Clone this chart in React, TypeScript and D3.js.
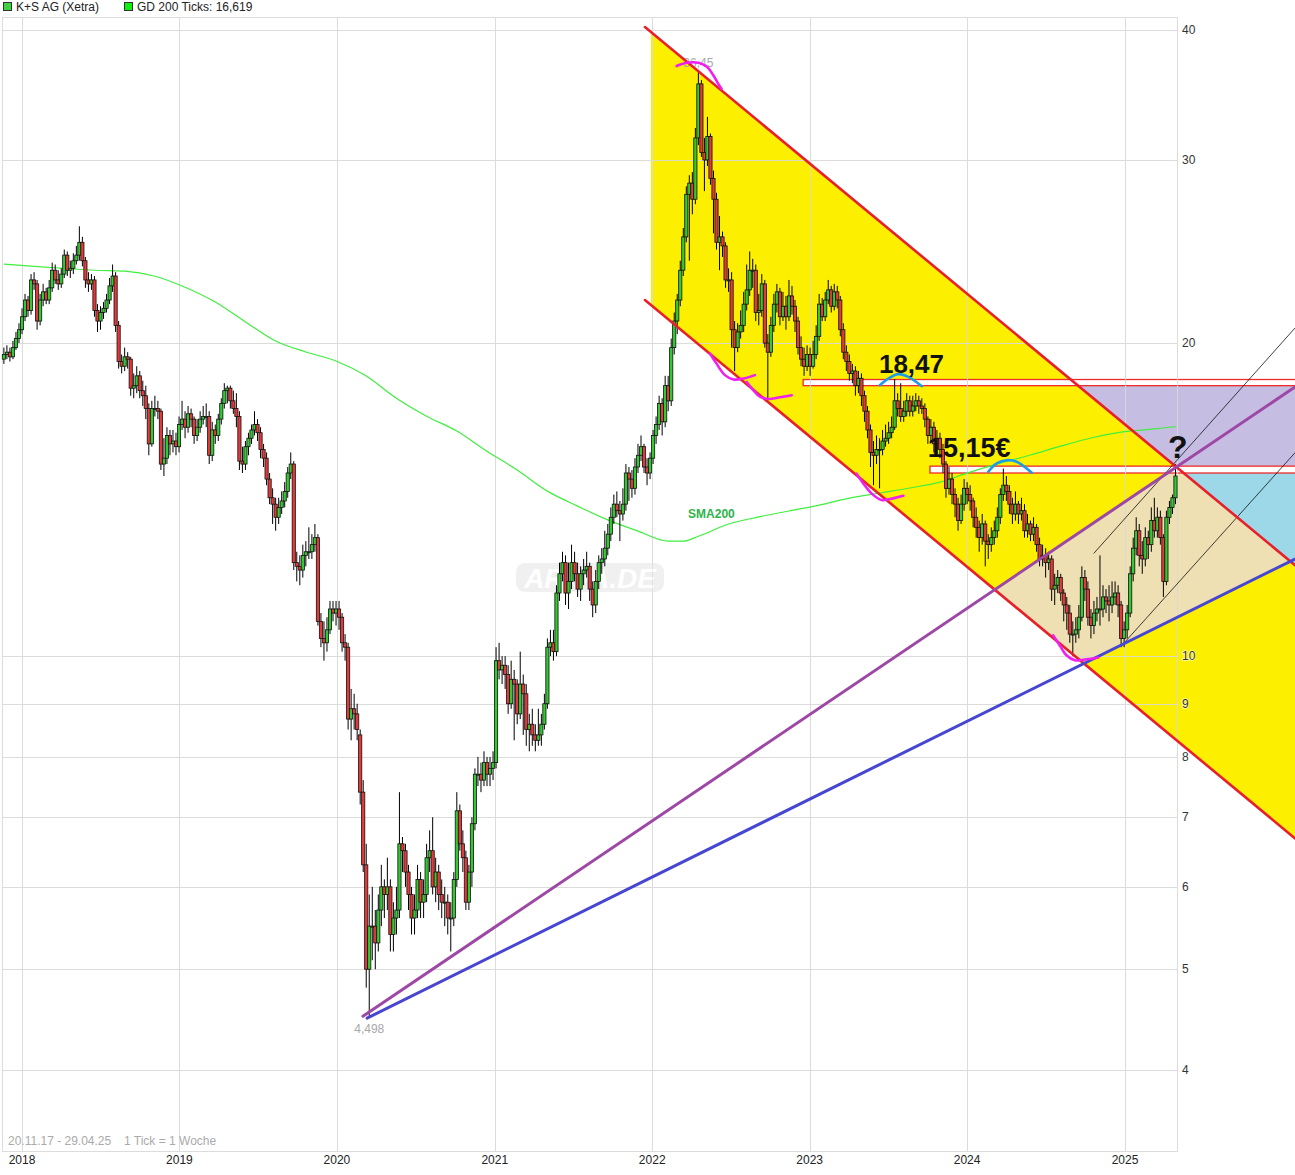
import * as d3 from "d3";

type Candle = [number, number, number, number]; // open, high, low, close
type Pt = [number, number]; // week index, price

const START = Date.UTC(2017, 10, 20);
const WEEK = 7 * 24 * 3600 * 1000;

const weeks2017: Candle[] = [
  [19.3, 19.8, 19.1, 19.5], [19.5, 19.9, 19.3, 19.6], [19.6, 19.8, 19.2, 19.4],
  [19.4, 20.1, 19.3, 19.8], [19.8, 20.5, 19.7, 20.2], [20.2, 20.9, 20.0, 20.6],
];

const weeks2018: Candle[] = [
  [20.6, 21.6, 20.4, 21.2], [21.2, 22.3, 21.0, 22.0], [22.0, 22.2, 21.2, 21.5], [21.5, 23.3, 21.3, 23.0], [23.0, 23.4, 22.5, 22.8],
  [22.8, 23.0, 20.6, 21.0], [21.0, 22.3, 20.8, 22.0], [22.0, 22.8, 21.7, 22.4], [22.4, 22.6, 21.8, 22.0], [22.0, 23.0, 21.8, 22.6],
  [22.6, 23.9, 22.4, 23.5], [23.5, 23.8, 22.8, 23.0], [23.0, 23.5, 22.5, 22.8], [22.8, 23.6, 22.6, 23.3], [23.3, 24.6, 23.1, 24.3],
  [24.3, 24.5, 23.2, 23.5], [23.5, 24.0, 23.1, 23.6], [23.6, 24.4, 23.3, 24.0], [24.0, 24.8, 23.8, 24.3], [24.3, 25.9, 24.0, 25.0],
  [25.0, 25.3, 23.7, 24.0], [24.0, 24.2, 22.6, 23.0], [23.0, 23.4, 22.4, 22.8], [22.8, 23.3, 22.5, 23.0], [23.0, 23.2, 21.2, 21.5],
  [21.5, 21.8, 20.5, 21.0], [21.0, 21.7, 20.6, 21.4], [21.4, 21.9, 21.1, 21.6], [21.6, 22.3, 21.4, 22.0], [22.0, 23.1, 21.8, 22.7],
  [22.7, 23.8, 22.4, 23.2], [23.2, 23.4, 20.5, 20.8], [20.8, 21.0, 18.9, 19.2], [19.2, 19.5, 18.7, 19.0], [19.0, 19.8, 18.8, 19.4],
  [19.4, 19.6, 18.9, 19.3], [19.3, 19.4, 17.8, 18.1], [18.1, 18.7, 17.7, 18.2], [18.2, 19.0, 17.9, 18.6], [18.6, 18.8, 17.7, 18.0],
  [18.0, 18.4, 17.4, 17.8], [17.8, 18.2, 16.9, 17.3], [17.3, 17.5, 15.6, 16.0], [16.0, 17.6, 15.9, 17.3], [17.3, 17.8, 17.0, 17.3],
  [17.3, 17.6, 16.9, 17.2], [17.2, 17.3, 15.1, 15.3], [15.3, 16.2, 14.9, 15.5], [15.5, 16.6, 15.3, 16.3], [16.3, 16.5, 15.6, 16.0],
  [16.0, 16.5, 15.7, 16.1], [16.1, 16.4, 15.6, 15.9],
];

const weeks2019: Candle[] = [
  [15.9, 17.0, 15.7, 16.7], [16.7, 17.6, 16.5, 16.9], [16.9, 17.2, 16.2, 16.6], [16.6, 17.4, 16.4, 17.1], [17.1, 17.3, 16.6, 16.9],
  [16.9, 17.0, 16.0, 16.3], [16.3, 16.9, 16.1, 16.6], [16.6, 17.2, 16.4, 16.9], [16.9, 17.4, 16.7, 17.0], [17.0, 17.5, 16.6, 17.0],
  [17.0, 17.2, 15.3, 15.6], [15.6, 16.8, 15.4, 16.5], [16.5, 16.7, 16.0, 16.3], [16.3, 17.1, 16.1, 16.9], [16.9, 17.7, 16.7, 17.5],
  [17.5, 18.3, 17.3, 18.0], [18.0, 18.2, 17.5, 18.1], [18.1, 18.2, 17.3, 17.6], [17.6, 18.0, 17.1, 17.3], [17.3, 17.9, 16.6, 17.0],
  [17.0, 17.2, 15.1, 15.4], [15.4, 15.9, 15.0, 15.3], [15.3, 16.1, 15.1, 15.9], [15.9, 16.4, 15.6, 16.2], [16.2, 16.7, 16.0, 16.5],
  [16.5, 17.2, 16.3, 16.7], [16.7, 16.9, 16.1, 16.4], [16.4, 16.6, 15.5, 15.8], [15.8, 16.0, 15.2, 15.5], [15.5, 15.7, 14.6, 14.8],
  [14.8, 15.0, 14.0, 14.2], [14.2, 14.5, 13.4, 14.0], [14.0, 14.2, 13.2, 13.6], [13.6, 14.2, 13.4, 13.9], [13.9, 14.4, 13.7, 14.1],
  [14.1, 14.7, 13.9, 14.4], [14.4, 15.2, 14.2, 15.0], [15.0, 15.7, 14.8, 15.3], [15.3, 15.4, 12.1, 12.3], [12.3, 12.6, 11.8, 12.2],
  [12.2, 12.5, 11.7, 12.1], [12.1, 12.8, 11.9, 12.5], [12.5, 12.9, 12.2, 12.6], [12.6, 13.3, 12.4, 12.6], [12.6, 13.1, 12.4, 12.8],
  [12.8, 13.4, 12.6, 13.0], [13.0, 13.1, 10.7, 10.8], [10.8, 11.0, 10.2, 10.4], [10.4, 10.8, 9.9, 10.3], [10.3, 10.9, 10.1, 10.6],
  [10.6, 11.3, 10.5, 11.1], [11.1, 11.3, 10.8, 11.0],
];

const weeks2020: Candle[] = [
  [11.0, 11.3, 10.7, 11.1], [11.1, 11.3, 10.6, 10.9], [10.9, 11.0, 10.1, 10.3], [10.3, 10.5, 9.9, 10.2], [10.2, 10.3, 8.5, 8.7],
  [8.7, 9.3, 8.3, 8.9], [8.9, 9.2, 8.5, 8.8], [8.8, 9.0, 8.3, 8.5], [8.4, 8.5, 7.2, 7.4], [7.4, 7.6, 6.2, 6.3],
  [6.3, 6.6, 4.8, 5.0], [5.0, 5.9, 4.498, 5.5], [5.5, 6.0, 5.1, 5.5], [5.5, 5.7, 5.0, 5.3], [5.3, 5.9, 5.2, 5.7],
  [5.7, 6.3, 5.5, 6.0], [6.0, 6.1, 5.6, 5.9], [5.9, 6.4, 5.7, 6.0], [6.0, 6.1, 5.2, 5.4], [5.4, 5.8, 5.2, 5.6],
  [5.6, 6.0, 5.4, 5.7], [5.7, 7.4, 5.6, 6.6], [6.6, 6.7, 6.2, 6.5], [6.5, 6.6, 6.0, 6.2], [6.2, 6.3, 5.7, 5.9],
  [5.9, 6.0, 5.4, 5.6], [5.6, 5.9, 5.4, 5.7], [5.7, 6.3, 5.6, 6.1], [6.1, 6.2, 5.6, 5.8], [5.8, 6.1, 5.6, 5.9],
  [5.9, 6.6, 5.8, 6.4], [6.4, 6.8, 6.2, 6.5], [6.5, 7.0, 5.9, 6.0], [6.0, 6.4, 5.8, 6.2], [6.2, 6.3, 5.7, 5.9],
  [5.9, 6.1, 5.6, 5.8], [5.8, 6.0, 5.5, 5.8], [5.8, 5.9, 5.4, 5.6], [5.6, 5.8, 5.2, 5.6], [5.6, 6.2, 5.5, 6.1],
  [6.1, 7.4, 6.0, 7.1], [7.1, 7.2, 6.5, 6.6], [6.6, 6.8, 6.2, 6.4], [6.4, 6.5, 5.7, 5.8], [5.8, 6.3, 5.7, 6.2],
  [6.2, 7.0, 6.0, 6.9], [6.9, 7.8, 6.8, 7.7], [7.7, 8.0, 7.5, 7.7], [7.7, 7.9, 7.4, 7.6], [7.6, 8.1, 7.5, 7.9],
  [7.9, 8.0, 7.5, 7.7], [7.7, 8.0, 7.5, 7.8], [7.8, 8.1, 7.6, 7.9],
];

const weeks2021: Candle[] = [
  [7.9, 10.2, 7.8, 9.9], [9.9, 10.3, 9.5, 9.7], [9.7, 10.0, 9.4, 9.8], [9.8, 10.0, 9.3, 9.6], [9.6, 9.8, 8.8, 9.0],
  [9.0, 9.9, 8.9, 9.5], [9.5, 9.7, 8.3, 9.4], [9.4, 9.5, 8.6, 8.8], [8.8, 10.1, 8.7, 9.4], [9.4, 9.6, 8.4, 9.2],
  [9.2, 9.4, 8.2, 8.5], [8.5, 8.8, 8.1, 8.6], [8.6, 8.9, 8.2, 8.4], [8.4, 8.6, 8.1, 8.3], [8.3, 8.9, 8.2, 8.4],
  [8.4, 8.8, 8.2, 8.6], [8.6, 9.2, 8.5, 9.0], [9.0, 10.4, 8.9, 10.2], [10.2, 10.6, 10.0, 10.3], [10.3, 10.6, 9.9, 10.1],
  [10.1, 11.7, 10.0, 11.5], [11.5, 12.3, 11.3, 12.0], [12.0, 12.6, 11.8, 12.3], [12.3, 12.5, 11.2, 11.5], [11.5, 12.3, 11.1, 11.8],
  [11.8, 12.8, 11.6, 12.3], [12.3, 12.6, 11.8, 12.0], [12.0, 12.3, 11.4, 11.6], [11.6, 12.2, 11.3, 12.0], [12.0, 12.4, 11.7, 12.1],
  [12.1, 12.6, 11.9, 12.2], [12.2, 12.3, 11.3, 11.6], [11.6, 11.8, 10.9, 11.2], [11.2, 12.1, 11.0, 11.8], [11.8, 12.5, 11.6, 12.3],
  [12.3, 12.7, 12.0, 12.4], [12.4, 13.2, 12.2, 12.7], [12.7, 13.4, 12.5, 13.1], [13.1, 13.9, 12.9, 13.6], [13.6, 14.3, 13.4, 14.0],
  [14.0, 14.4, 13.6, 13.8], [13.8, 14.1, 12.9, 13.7], [13.7, 14.5, 13.5, 14.0], [14.0, 15.3, 13.8, 15.0], [15.0, 15.2, 14.1, 14.8],
  [14.8, 15.1, 14.2, 14.5], [14.5, 15.5, 14.3, 15.2], [15.2, 16.0, 15.0, 15.6], [15.6, 16.3, 15.4, 15.9], [15.9, 16.0, 15.0, 15.2],
  [15.2, 15.5, 14.6, 15.0], [15.0, 15.7, 14.8, 15.5],
];

const weeks2022: Candle[] = [
  [15.5, 16.5, 15.3, 16.3], [16.3, 17.0, 16.0, 16.7], [16.7, 17.8, 16.5, 17.5], [17.5, 17.7, 16.3, 16.8], [16.8, 18.6, 16.6, 18.2],
  [18.2, 18.6, 17.2, 17.6], [17.6, 20.2, 17.4, 19.8], [19.8, 21.4, 19.5, 21.0], [21.0, 22.3, 20.4, 22.0], [22.0, 24.0, 21.7, 23.5],
  [23.5, 25.8, 23.2, 25.3], [25.3, 28.3, 25.0, 27.8], [27.8, 29.0, 24.0, 28.5], [28.5, 29.2, 26.6, 27.5], [27.5, 32.2, 27.2, 31.5],
  [31.5, 36.45, 31.0, 35.5], [35.5, 35.8, 30.2, 30.5], [30.5, 31.5, 28.0, 30.0], [30.0, 33.0, 29.6, 31.6], [31.6, 31.8, 28.4, 28.8],
  [28.8, 29.3, 25.5, 27.5], [27.5, 27.9, 24.6, 25.0], [25.0, 26.5, 23.5, 25.3], [25.3, 25.6, 24.2, 24.8], [24.8, 25.0, 22.6, 23.0],
  [23.0, 23.6, 22.4, 23.0], [23.0, 23.4, 19.8, 20.6], [20.6, 21.0, 18.8, 19.8], [19.8, 20.9, 19.6, 20.5], [20.5, 21.5, 20.2, 20.8],
  [20.8, 22.4, 20.5, 21.8], [21.8, 23.8, 21.5, 22.5], [22.5, 24.5, 22.2, 23.5], [23.5, 24.1, 22.6, 23.5], [23.5, 23.8, 21.0, 21.4],
  [21.4, 22.3, 20.8, 21.5], [21.5, 23.3, 21.2, 22.8], [22.8, 23.0, 19.8, 20.0], [20.0, 20.4, 17.6, 19.6], [19.6, 21.2, 19.4, 20.8],
  [20.8, 22.3, 20.5, 21.8], [21.8, 22.8, 21.4, 22.4], [22.4, 22.6, 20.8, 21.2], [21.2, 22.4, 21.0, 21.7], [21.7, 22.2, 20.6, 21.2],
  [21.2, 23.0, 21.0, 22.2], [22.2, 22.7, 21.3, 21.7], [21.7, 22.0, 20.5, 21.0], [21.0, 21.2, 19.5, 19.8], [19.8, 20.3, 19.0, 19.3],
  [19.3, 19.8, 18.6, 19.0], [19.0, 19.9, 18.8, 19.5],
];

const weeks2023: Candle[] = [
  [19.5, 19.8, 18.6, 19.0], [19.0, 20.1, 18.9, 19.5], [19.5, 20.8, 19.3, 20.3], [20.3, 22.3, 20.1, 21.8], [21.8, 22.1, 21.0, 21.2],
  [21.2, 22.4, 21.0, 22.0], [22.0, 23.0, 21.8, 22.5], [22.5, 22.7, 21.4, 21.7], [21.7, 22.8, 21.5, 22.4], [22.4, 22.7, 21.6, 22.0],
  [22.0, 22.2, 20.3, 20.6], [20.6, 20.9, 19.3, 19.6], [19.6, 19.9, 18.8, 19.2], [19.2, 19.5, 18.4, 18.7], [18.7, 19.1, 18.3, 18.8],
  [18.8, 19.0, 17.8, 18.2], [18.2, 18.8, 17.9, 18.5], [18.5, 18.7, 17.4, 17.8], [17.8, 18.0, 16.8, 17.2], [17.2, 17.4, 16.2, 16.5],
  [16.5, 16.7, 15.2, 15.7], [15.7, 16.1, 14.6, 15.6], [15.6, 16.3, 15.3, 15.8], [15.8, 16.2, 14.5, 15.8], [15.8, 16.5, 15.6, 16.1],
  [16.1, 16.7, 15.9, 16.2], [16.2, 16.8, 16.0, 16.4], [16.4, 17.0, 16.2, 16.6], [16.6, 18.47, 16.5, 17.6], [17.6, 17.9, 17.0, 17.3],
  [17.3, 18.3, 16.8, 17.0], [17.0, 17.6, 16.8, 17.2], [17.2, 17.9, 17.0, 17.6], [17.6, 17.8, 17.0, 17.2], [17.2, 17.8, 17.0, 17.4],
  [17.4, 17.9, 17.2, 17.6], [17.6, 17.8, 17.1, 17.4], [17.4, 17.7, 17.1, 17.3], [17.3, 17.5, 16.6, 16.9], [16.9, 17.0, 16.0, 16.3],
  [16.3, 16.9, 16.1, 16.6], [16.6, 16.8, 15.7, 16.0], [16.0, 16.5, 15.8, 16.2], [16.2, 16.4, 15.5, 15.8], [15.8, 16.0, 15.0, 15.3],
  [15.3, 15.4, 14.2, 14.5], [14.5, 15.2, 14.3, 14.8], [14.8, 15.0, 14.0, 14.3], [14.3, 14.5, 13.6, 14.0], [14.0, 14.2, 13.2, 13.5],
  [13.5, 14.3, 13.4, 14.0], [14.0, 14.8, 13.8, 14.5],
];

const weeks2024: Candle[] = [
  [14.5, 14.7, 14.0, 14.3], [14.3, 14.6, 13.8, 14.1], [14.1, 14.2, 13.3, 13.6], [13.6, 13.9, 13.0, 13.3], [13.3, 13.5, 12.6, 13.0],
  [13.0, 13.7, 12.8, 13.4], [13.4, 13.5, 12.2, 12.9], [12.9, 13.1, 12.4, 12.8], [12.8, 13.3, 12.6, 13.0], [13.0, 13.5, 12.8, 13.2],
  [13.2, 13.9, 13.0, 13.6], [13.6, 14.5, 13.4, 14.3], [14.3, 15.15, 14.1, 14.6], [14.6, 14.9, 14.1, 14.4], [14.4, 14.6, 13.7, 14.0],
  [14.0, 14.2, 13.4, 13.7], [13.7, 14.4, 13.5, 14.0], [14.0, 14.1, 13.4, 13.7], [13.7, 14.2, 13.5, 13.8], [13.8, 14.0, 13.0, 13.2],
  [13.2, 13.7, 13.0, 13.4], [13.4, 13.5, 12.9, 13.1], [13.1, 13.6, 12.9, 13.3], [13.3, 13.4, 12.6, 12.8], [12.8, 13.0, 12.2, 12.4],
  [12.4, 12.8, 12.2, 12.5], [12.5, 12.7, 11.9, 12.3], [12.3, 12.6, 12.1, 12.4], [12.4, 12.5, 11.3, 11.6], [11.6, 12.0, 11.2, 11.7],
  [11.7, 12.1, 11.5, 11.9], [11.9, 12.0, 11.3, 11.5], [11.5, 11.6, 10.8, 11.2], [11.2, 11.4, 10.6, 11.0], [11.0, 11.2, 10.3, 10.5],
  [10.5, 10.8, 10.0, 10.5], [10.5, 10.9, 10.3, 10.6], [10.6, 11.2, 10.4, 10.9], [10.9, 12.2, 10.8, 11.9], [11.9, 12.1, 11.3, 11.6],
  [11.6, 11.8, 10.7, 10.9], [10.9, 11.1, 10.4, 10.7], [10.7, 11.3, 10.5, 11.0], [11.0, 11.4, 10.8, 11.1], [11.1, 12.5, 10.7, 11.1],
  [11.1, 11.7, 10.9, 11.4], [11.4, 11.6, 11.0, 11.3], [11.3, 11.7, 10.8, 11.2], [11.2, 11.8, 11.0, 11.4], [11.4, 11.8, 11.2, 11.5],
  [11.5, 11.7, 10.9, 11.2], [11.2, 11.3, 10.2, 10.4], [10.4, 10.8, 10.2, 10.6],
];

const weeks2025: Candle[] = [
  [10.6, 11.2, 10.4, 11.0], [11.0, 12.2, 10.9, 12.0], [12.0, 13.0, 11.8, 12.7], [12.7, 13.6, 12.5, 13.2], [13.2, 13.4, 12.2, 12.5],
  [12.5, 12.9, 12.0, 12.4], [12.4, 13.3, 12.2, 13.0], [13.0, 13.2, 12.4, 12.8], [12.8, 13.9, 12.6, 13.5], [13.5, 14.2, 13.0, 13.2],
  [13.2, 13.9, 13.0, 13.6], [13.6, 13.8, 12.8, 13.0], [13.0, 13.1, 11.4, 11.8], [11.8, 13.8, 11.7, 13.6], [13.6, 14.1, 13.4, 13.9],
  [13.9, 14.3, 13.7, 14.2], [14.2, 15.3, 14.0, 14.9],
];

const priceTicks = [4, 5, 6, 7, 8, 9, 10, 20, 30, 40];
const yearTicks = [2018, 2019, 2020, 2021, 2022, 2023, 2024, 2025];

// GD 200 (200-week average)
const smaWeeks = [0, 10, 20, 30, 40, 50, 60, 70, 80, 90, 100, 110, 120, 130, 140, 150, 160, 170, 180, 190, 200, 210, 220, 225, 230,
  240, 250, 260, 270, 280, 290, 300, 310, 320, 330, 340, 350, 360, 370, 380, 388];
const smaValues = [23.82, 23.7, 23.6, 23.5, 23.45, 23.19, 22.63, 21.9, 20.96, 20.09, 19.61, 19.22, 18.59, 17.7, 17.01, 16.46, 15.74,
  15.1, 14.41, 13.94, 13.52, 13.19, 12.9, 12.9, 13.04, 13.4, 13.61, 13.79, 13.97, 14.19, 14.35, 14.51, 14.7, 15.03, 15.33, 15.61,
  15.92, 16.21, 16.42, 16.53, 16.62];

// drawings, as [week index, price]
const channelTop: Pt[] = [[212.3, 40.26], [427.6, 12.23]];
const channelBottom: Pt[] = [[212.3, 22.0], [427.6, 6.68]];
const channelFillFrom = 214.3;
const purpleLine: Pt[] = [[118.9, 4.506], [427.6, 18.15]];
const blueLine: Pt[] = [[120.3, 4.487], [427.6, 12.4]];
const thinLineA: Pt[] = [[361.0, 12.56], [427.6, 20.68]];
const thinLineB: Pt[] = [[371.3, 10.32], [427.6, 15.69]];
const levelBoxes = [
  { from: 264.7, hi: 18.45, lo: 18.2 },
  { from: 306.7, hi: 15.23, lo: 15.0 },
];
const lavenderBand = [18.2, 15.23];
const cyanBand = [15.0, 10.0];
const magentaCurves: Pt[][] = [
  [[222.8, 36.93], [226.1, 37.2], [230.0, 37.2], [232.8, 36.87], [234.9, 36.2], [236.6, 35.5], [237.7, 35.1]],
  [[233.8, 19.55], [236.0, 19.11], [238.8, 18.63], [241.6, 18.45], [244.9, 18.49], [248.7, 18.63]],
  [[246.0, 18.35], [248.2, 18.02], [250.4, 17.76], [253.2, 17.67], [257.0, 17.74], [260.9, 17.82]],
  [[282.4, 14.98], [284.6, 14.66], [287.4, 14.33], [290.7, 14.13], [294.5, 14.18], [297.9, 14.26]],
  [[347.5, 10.47], [349.7, 10.24], [351.9, 10.02], [354.7, 9.91], [358.6, 9.93], [362.4, 9.97]],
];
const blueArcs: Pt[][] = [
  [[290.1, 18.22], [292.9, 18.49], [296.2, 18.67], [299.5, 18.56], [304.0, 18.18]],
  [[326.0, 15.04], [328.8, 15.32], [332.1, 15.43], [335.4, 15.38], [340.4, 15.01]],
];
const notes = [
  { w: 289.8, p: 18.72, text: "18,47", size: 26 },
  { w: 306.0, p: 15.54, text: "15,15€", size: 27 },
  { w: 385.5, p: 15.51, text: "?", size: 32 },
];
const smaLabel = { w: 226.6, p: 13.58, text: "SMA200" };

const FONT = "'Liberation Sans', Arial, sans-serif";

export default function App() {
  const W = 1295;
  const H = 1175;
  const frame = { left: 2.5, top: 17.5, right: 1177.5, bottom: 1151.5 };

  const x = d3.scaleUtc()
    .domain([new Date(Date.UTC(2018, 0, 1)), new Date(Date.UTC(2025, 0, 1))])
    .range([22, 1125]);
  const y = d3.scaleLog().domain([4, 40]).range([1070, 30]);

  const wd = (w: number) => new Date(START + w * WEEK);
  const pt = ([w, p]: Pt): [number, number] => [x(wd(w)), y(p)];
  const atX = (a: number[], b: number[], px: number) => a[1] + ((b[1] - a[1]) * (px - a[0])) / (b[0] - a[0]);
  const poly = (ps: number[][]) => ps.map((p) => p.join(",")).join(" ");

  const candles = [...weeks2017, ...weeks2018, ...weeks2019, ...weeks2020, ...weeks2021, ...weeks2022,
    ...weeks2023, ...weeks2024, ...weeks2025].map((c, i) => ({ date: wd(i), o: c[0], h: c[1], l: c[2], c: c[3] }));
  const lowest = candles.reduce((a, b) => (b.l < a.l ? b : a));
  const highest = candles.reduce((a, b) => (b.h > a.h ? b : a));

  const [ts, te] = channelTop.map(pt);
  const [bs, be] = channelBottom.map(pt);
  const fx = x(wd(channelFillFrom));
  const channel = [[fx, atX(ts, te, fx)], te, be, [fx, atX(bs, be, fx)]];
  const aboveTop = [ts, te, [te[0], -50], [ts[0], -50]];
  const [ps, pe] = purpleLine.map(pt);
  const [qs, qe] = blueLine.map(pt);
  const tan = [ps, pe, qe, qs];

  const smaPath = d3.line<number>()
    .x((_, i) => x(wd(smaWeeks[i])))
    .y((v) => y(v))
    .curve(d3.curveMonotoneX)(smaValues) ?? "";

  const curve = d3.line<Pt>()
    .x((d) => x(wd(d[0])))
    .y((d) => y(d[1]))
    .curve(d3.curveCatmullRom);

  const seg = (line: Pt[], color: string, width: number, key: string) => {
    const [a, b] = line.map(pt);
    return <line key={key} x1={a[0]} y1={a[1]} x2={b[0]} y2={b[1]} stroke={color} strokeWidth={width} strokeLinecap="round" />;
  };

  return (
    <div>
      <style>{"body{margin:0}"}</style>
      <svg width={W} height={H} style={{ display: "block", fontFamily: FONT }}>
        <defs>
          <clipPath id="chan"><polygon points={poly(channel)} /></clipPath>
          <clipPath id="above"><polygon points={poly(aboveTop)} /></clipPath>
        </defs>
        <rect width={W} height={H} fill="#fff" />

        {/* shaded drawings */}
        <polygon points={poly(channel)} fill="#fcf000" />
        <polygon points={poly(tan)} fill="#eee0b2" clipPath="url(#chan)" />
        <g clipPath="url(#above)">
          <rect x={fx} width={W - fx} y={y(lavenderBand[0])} height={y(lavenderBand[1]) - y(lavenderBand[0])} fill="#c6bde3" />
          <rect x={fx} width={W - fx} y={y(cyanBand[0])} height={y(cyanBand[1]) - y(cyanBand[0])} fill="#9dd8e9" />
        </g>
        {levelBoxes.map((b, i) => (
          <rect key={i} x={x(wd(b.from))} y={y(b.hi)} width={W + 10 - x(wd(b.from))} height={y(b.lo) - y(b.hi)}
            fill="#fff" stroke="#ee2a2a" strokeWidth={1.3} />
        ))}

        {/* grid */}
        <g stroke="#d9d9d9" strokeWidth={1} opacity={0.9} shapeRendering="crispEdges">
          {priceTicks.map((t) => (
            <line key={t} x1={frame.left} x2={frame.right} y1={Math.round(y(t)) + 0.5} y2={Math.round(y(t)) + 0.5} />
          ))}
          {yearTicks.map((yr) => {
            const px = Math.round(x(new Date(Date.UTC(yr, 0, 1)))) + 0.5;
            return <line key={yr} x1={px} x2={px} y1={frame.top} y2={frame.bottom} />;
          })}
          <rect x={frame.left} y={frame.top} width={frame.right - frame.left} height={frame.bottom - frame.top} fill="none" />
        </g>

        {/* watermark */}
        <g opacity={0.55}>
          <rect x={516} y={563} width={148} height={29} rx={9} fill="#e4e4e4" />
          <text x={590} y={588} textAnchor="middle" fontSize={28} fontWeight="bold" fontStyle="italic" fill="#fff">ARIVA.DE</text>
        </g>

        {/* SMA 200 */}
        <path d={smaPath} fill="none" stroke="#3fef3f" strokeWidth={1.2} />

        {/* candles */}
        <g>
          {candles.map((d, i) => {
            const cx = x(d.date);
            const top = y(Math.max(d.o, d.c));
            const bot = y(Math.min(d.o, d.c));
            return (
              <g key={i}>
                <line x1={cx} x2={cx} y1={y(d.h)} y2={y(d.l)} stroke="#000" strokeWidth={1} />
                <rect x={cx - 1.6} y={top} width={3.2} height={Math.max(1, bot - top)}
                  fill={d.c >= d.o ? "#2fcb2f" : "#e63838"} stroke="#111" strokeWidth={0.8} />
              </g>
            );
          })}
        </g>

        {/* min / max labels */}
        <text x={x(highest.date)} y={y(highest.h) - 5} textAnchor="middle" fontSize={12} fill="#a8a8a8">
          {String(highest.h).replace(".", ",")}
        </text>
        <text x={x(lowest.date)} y={y(lowest.l) + 16} textAnchor="middle" fontSize={12} fill="#a8a8a8">
          {String(lowest.l).replace(".", ",")}
        </text>

        {/* trend lines */}
        {seg(thinLineA, "#111", 0.8, "ta")}
        {seg(thinLineB, "#111", 0.8, "tb")}
        {seg(channelTop, "#e8202a", 2.6, "ct")}
        {seg(channelBottom, "#e8202a", 2.6, "cb")}
        {seg(blueLine, "#4646d2", 3, "bl")}
        {seg(purpleLine, "#9e48a6", 3, "pl")}

        {magentaCurves.map((c, i) => (
          <path key={"m" + i} d={curve(c) ?? ""} fill="none" stroke="#f01ef0" strokeWidth={2.6} strokeLinecap="round" />
        ))}
        {blueArcs.map((c, i) => (
          <path key={"b" + i} d={curve(c) ?? ""} fill="none" stroke="#1e9be6" strokeWidth={2.6} strokeLinecap="round" />
        ))}

        {notes.map((n) => (
          <text key={n.text} x={x(wd(n.w))} y={y(n.p)} fontSize={n.size} fontWeight="bold" fill="#111">{n.text}</text>
        ))}
        <text x={x(wd(smaLabel.w))} y={y(smaLabel.p)} fontSize={12} fontWeight="bold" fill="#2db34a">{smaLabel.text}</text>

        {/* price axis */}
        {priceTicks.map((t) => (
          <text key={t} x={1182} y={y(t)} dy="0.35em" fontSize={12} fill="#333"
            stroke="#fff" strokeWidth={1.5} strokeOpacity={0.7} paintOrder="stroke">{t}</text>
        ))}

        {/* time axis */}
        {yearTicks.map((yr) => (
          <text key={yr} x={x(new Date(Date.UTC(yr, 0, 1)))} y={1164} textAnchor="middle" fontSize={12} fill="#222">{yr}</text>
        ))}
        <text x={8} y={1145} fontSize={12} fill="#aaa">20.11.17 - 29.04.25</text>
        <text x={124} y={1145} fontSize={12} fill="#aaa">1 Tick = 1 Woche</text>

        {/* legend */}
        <rect x={3.5} y={2.5} width={8} height={8} fill="#3fd23f" stroke="#333" strokeWidth={1} />
        <text x={16} y={11} fontSize={12} fill="#222">K+S AG (Xetra)</text>
        <rect x={124.5} y={2.5} width={8} height={8} fill="#10f010" stroke="#333" strokeWidth={1} />
        <text x={137} y={11} fontSize={12} fill="#222">GD 200 Ticks: 16,619</text>
      </svg>
    </div>
  );
}
